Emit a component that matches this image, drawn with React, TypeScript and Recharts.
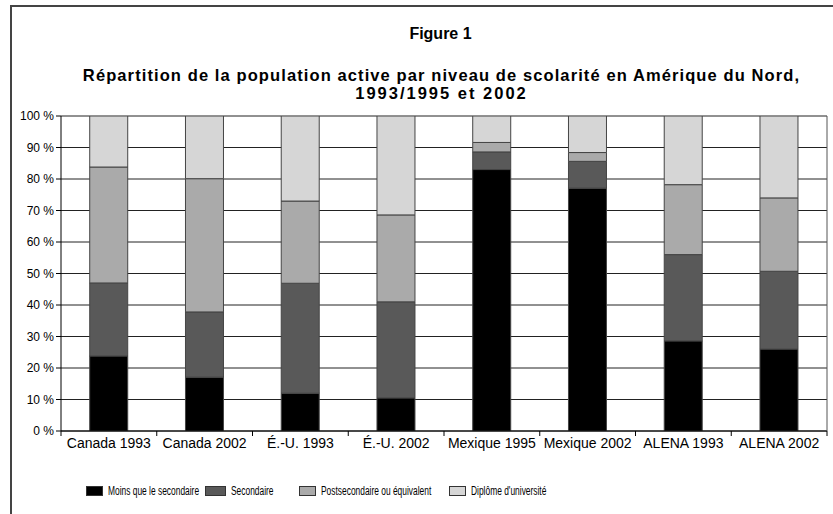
import { BarChart, Bar, XAxis, YAxis, CartesianGrid } from "recharts";

const categories = [
  "Canada 1993",
  "Canada 2002",
  "É.-U. 1993",
  "É.-U. 2002",
  "Mexique 1995",
  "Mexique 2002",
  "ALENA 1993",
  "ALENA 2002",
];

// parts en %, du bas vers le haut
const moinsSecondaire = [23.8, 17.1, 12.0, 10.5, 83.0, 77.1, 28.6, 26.0];
const secondaire = [23.2, 20.7, 34.9, 30.5, 5.6, 8.5, 27.4, 24.7];
const postsecondaire = [36.8, 42.3, 26.1, 27.6, 3.0, 2.8, 22.2, 23.3];
const universite = [16.2, 19.9, 27.0, 31.4, 8.4, 11.6, 21.8, 26.0];

const yTicks = [0, 10, 20, 30, 40, 50, 60, 70, 80, 90, 100];

const SERIES = [
  { key: "moins", name: "Moins que le secondaire", color: "#000000" },
  { key: "sec", name: "Secondaire", color: "#595959" },
  { key: "post", name: "Postsecondaire ou équivalent", color: "#aaaaaa" },
  { key: "univ", name: "Diplôme d'université", color: "#d6d6d6" },
];

// position horizontale de chaque entrée de légende (px)
const LEGEND_LEFT = [86, 205, 299, 449];
const LEGEND_SWATCH_W = [17, 21, 17, 17];

const data = categories.map((c, i) => ({
  cat: c,
  moins: moinsSecondaire[i],
  sec: secondaire[i],
  post: postsecondaire[i],
  univ: universite[i],
}));

const FONT = "'Liberation Sans', Arial, Helvetica, sans-serif";

const titleStyle = {
  position: "absolute" as const,
  left: 0,
  width: 883,
  textAlign: "center" as const,
  fontWeight: "bold" as const,
  color: "#000",
  whiteSpace: "nowrap" as const,
};

const XTick = (props: any) => {
  const { x, y, payload, index } = props;
  const half = payload?.offset ?? 0;
  const last = index === categories.length - 1;
  return (
    <g>
      <line x1={x - half} x2={x - half} y1={y - 7} y2={y - 2} stroke="#000" />
      {last && (
        <line x1={x + half} x2={x + half} y1={y - 7} y2={y - 2} stroke="#000" />
      )}
      <text
        x={x}
        y={y}
        dy="0.72em"
        textAnchor="middle"
        fontSize={14}
        fill="#000"
      >
        {payload.value}
      </text>
    </g>
  );
};

export default function App() {
  return (
    <div
      style={{
        position: "fixed",
        left: 0,
        top: 0,
        width: 833,
        height: 514,
        background: "#fff",
        fontFamily: FONT,
        overflow: "hidden",
      }}
    >
      <div
        style={{
          position: "absolute",
          left: 10,
          top: 5,
          right: -4,
          bottom: -4,
          borderTop: "2px solid #444",
          borderLeft: "2px solid #444",
        }}
      />
      <div style={{ ...titleStyle, top: 25, fontSize: 16, width: 881 }}>Figure 1</div>
      <div style={{ ...titleStyle, top: 66, fontSize: 16.5, letterSpacing: 1.1, lineHeight: "19px" }}>
        Répartition de la population active par niveau de scolarité en Amérique du Nord,
      </div>
      <div style={{ ...titleStyle, top: 84, fontSize: 16.5, letterSpacing: 2, lineHeight: "19px" }}>
        1993/1995 et 2002
      </div>

      <div style={{ position: "absolute", left: 0, top: 0 }}>
        <BarChart
          width={833}
          height={514}
          data={data}
          margin={{ top: 116, right: 0, bottom: 0, left: 0 }}
          barCategoryGap="30%"
        >
          <CartesianGrid vertical={false} stroke="#222" strokeWidth={1} />
          <XAxis
            dataKey="cat"
            axisLine={{ stroke: "#000" }}
            tickLine={false}
            tickSize={5}
            tickMargin={2}
            interval={0}
            tick={<XTick />}
            height={83}
          />
          <YAxis
            width={61}
            domain={[0, 100]}
            ticks={yTicks}
            tickFormatter={(v) => `${v} %`}
            axisLine={{ stroke: "#000" }}
            tickLine={{ stroke: "#000" }}
            tickSize={5}
            tickMargin={2}
            tick={{ fontSize: 12, fill: "#000" }}
            allowDataOverflow
          />
          <YAxis
            yAxisId="r"
            orientation="right"
            width={6}
            domain={[0, 100]}
            tick={false}
            tickLine={false}
            axisLine={{ stroke: "#555" }}
          />
          {SERIES.map((s) => (
            <Bar
              key={s.key}
              dataKey={s.key}
              name={s.name}
              stackId="a"
              fill={s.color}
              stroke="#444"
              strokeWidth={1}
              isAnimationActive={false}
            />
          ))}
        </BarChart>
      </div>

      {SERIES.map((s, i) => (
        <div
          key={s.key}
          style={{
            position: "absolute",
            left: LEGEND_LEFT[i],
            top: 484,
            display: "flex",
            alignItems: "center",
            gap: 5,
            color: "#000",
            whiteSpace: "nowrap",
          }}
        >
          <span
            style={{
              display: "inline-block",
              width: LEGEND_SWATCH_W[i],
              height: 10,
              background: s.color,
              border: "1px solid #333",
              boxSizing: "border-box",
            }}
          />
          <span
            style={{
              display: "inline-block",
              fontSize: 12,
              transform: "scaleX(0.7)",
              transformOrigin: "left center",
            }}
          >
            {s.name}
          </span>
        </div>
      ))}
    </div>
  );
}
